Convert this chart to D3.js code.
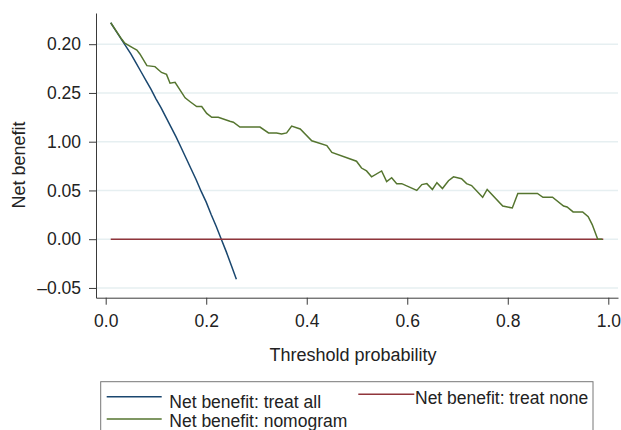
<!DOCTYPE html>
<html>
<head>
<meta charset="utf-8">
<script src="https://cdn.jsdelivr.net/npm/d3@7"></script>
<style>
  body { margin: 0; background: #fff; }
  svg { display: block; font-family: "Liberation Sans", Arial, Helvetica, sans-serif; }
  .axis path, .axis line { stroke: #3a3a3a; }
  .axis text { fill: #222; font-size: 17.5px; }
</style>
</head>
<body>
<div id="chart"></div>
<script>
// threshold probabilities and net benefit
var allX = [0.01, 0.02, 0.03, 0.04, 0.05, 0.06, 0.07, 0.08, 0.09, 0.10, 0.11, 0.12, 0.13,
            0.14, 0.15, 0.16, 0.17, 0.18, 0.19, 0.20, 0.21, 0.22, 0.23, 0.24, 0.25, 0.26];
var allY = [0.222, 0.214, 0.206, 0.198, 0.190, 0.181, 0.172, 0.163, 0.154, 0.144, 0.135, 0.125, 0.115,
            0.105, 0.094, 0.083, 0.072, 0.061, 0.049, 0.038, 0.025, 0.013, 0.000, -0.013, -0.027, -0.041];

var noneX = [0.01, 0.99];
var noneY = [0, 0];

var nomoX = [0.010, 0.032, 0.038, 0.055, 0.062, 0.068, 0.082, 0.098, 0.111, 0.121, 0.128, 0.138,
             0.158, 0.168, 0.181, 0.191, 0.201, 0.211, 0.224, 0.247, 0.254, 0.267, 0.307, 0.324,
             0.340, 0.350, 0.360, 0.370, 0.387, 0.410, 0.440, 0.450, 0.499, 0.509, 0.519, 0.529,
             0.549, 0.559, 0.569, 0.579, 0.589, 0.619, 0.629, 0.639, 0.650, 0.659, 0.670, 0.682,
             0.692, 0.708, 0.718, 0.728, 0.750, 0.759, 0.790, 0.809, 0.820, 0.859, 0.870, 0.889,
             0.911, 0.918, 0.930, 0.949, 0.960, 0.968, 0.979, 0.988];
var nomoY = [0.222, 0.205, 0.201, 0.196, 0.194, 0.190, 0.178, 0.177, 0.171, 0.169, 0.160, 0.161,
             0.145, 0.141, 0.136, 0.136, 0.129, 0.125, 0.125, 0.121, 0.120, 0.115, 0.115, 0.109,
             0.109, 0.108, 0.109, 0.116, 0.113, 0.101, 0.096, 0.089, 0.080, 0.073, 0.070, 0.064,
             0.070, 0.059, 0.063, 0.057, 0.057, 0.050, 0.056, 0.057, 0.051, 0.058, 0.052, 0.060,
             0.064, 0.062, 0.057, 0.055, 0.043, 0.051, 0.034, 0.032, 0.047, 0.047, 0.043, 0.043,
             0.034, 0.033, 0.028, 0.028, 0.023, 0.015, 0.000, 0.000];

var yTicks = [0.20, 0.15, 0.10, 0.05, 0.00, -0.05];
var yTickLabels = ["0.20", "0.25", "1.00", "0.05", "0.00", "\u20130.05"];
var xTicks = [0, 0.2, 0.4, 0.6, 0.8, 1.0];

var seriesNames = ["Net benefit: treat all", "Net benefit: treat none", "Net benefit: nomogram"];
var seriesColors = ["#1a476f", "#90353b", "#55752f"];

var width = 621, height = 430;

var svg = d3.select('#chart')
  .append('svg')
  .attr('width', width)
  .attr('height', height);

var xScale = d3.scaleLinear()
  .domain([-0.0193, 1.0193])
  .range([96, 618]);

var yScale = d3.scaleLinear()
  .domain([-0.06, 0.232])
  .range([297.7, 13]);

// grid lines
svg.append('g')
  .selectAll('line')
  .data(yTicks)
  .enter()
  .append('line')
  .attr('x1', xScale.range()[0])
  .attr('x2', xScale.range()[1])
  .attr('y1', function(d) { return yScale(d); })
  .attr('y2', function(d) { return yScale(d); })
  .attr('stroke', '#e6eff1')
  .attr('stroke-width', 1.4);

var yAxis = svg.append('g')
  .attr('class', 'axis')
  .attr('transform', 'translate(96,0)')
  .call(d3.axisLeft(yScale)
    .tickValues(yTicks)
    .tickSize(7)
    .tickPadding(8)
    .tickSizeOuter(0)
    .tickFormat(function(d, i) { return yTickLabels[i]; }));

var xAxis = svg.append('g')
  .attr('class', 'axis')
  .attr('transform', 'translate(0,297.7)')
  .call(d3.axisBottom(xScale)
    .tickValues(xTicks)
    .tickSize(7)
    .tickPadding(10)
    .tickSizeOuter(0)
    .tickFormat(d3.format('.1f')));

svg.append('text')
  .attr('x', 353)
  .attr('y', 361)
  .attr('text-anchor', 'middle')
  .attr('fill', '#222')
  .style('font-size', '18px')
  .text('Threshold probability');

svg.append('text')
  .attr('transform', 'translate(25,165) rotate(-90)')
  .attr('text-anchor', 'middle')
  .attr('fill', '#222')
  .style('font-size', '18px')
  .text('Net benefit');

var line = d3.line()
  .x(function(d) { return xScale(d[0]); })
  .y(function(d) { return yScale(d[1]); });

var curves = [
  d3.zip(allX, allY),
  d3.zip(noneX, noneY),
  d3.zip(nomoX, nomoY)
];

svg.selectAll('.curve')
  .data(curves)
  .enter()
  .append('path')
  .attr('class', 'curve')
  .attr('fill', 'none')
  .attr('stroke', function(d, i) { return seriesColors[i]; })
  .attr('stroke-width', 1.5)
  .attr('d', line);

// legend
var legend = svg.append('g');

legend.append('rect')
  .attr('x', 100.7)
  .attr('y', 381.7)
  .attr('width', 492.3)
  .attr('height', 70)
  .attr('fill', 'none')
  .attr('stroke', '#777')
  .attr('stroke-width', 1);

var legendItems = [
  { x1: 106.7, x2: 161.7, ly: 396.7, tx: 169.3, ty: 401.5 },
  { x1: 358.3, x2: 414.3, ly: 394.3, tx: 415, ty: 398 },
  { x1: 106.7, x2: 161.7, ly: 419, tx: 169.3, ty: 420.5 }
];

legendItems.forEach(function(p, i) {
  legend.append('line')
    .attr('x1', p.x1).attr('x2', p.x2)
    .attr('y1', p.ly).attr('y2', p.ly)
    .attr('stroke', seriesColors[i])
    .attr('stroke-width', 1.5);
  legend.append('text')
    .attr('x', p.tx)
    .attr('y', p.ty)
    .attr('dy', '0.35em')
    .attr('fill', '#222')
    .style('font-size', '17.5px')
    .text(seriesNames[i]);
});
</script>
</body>
</html>
